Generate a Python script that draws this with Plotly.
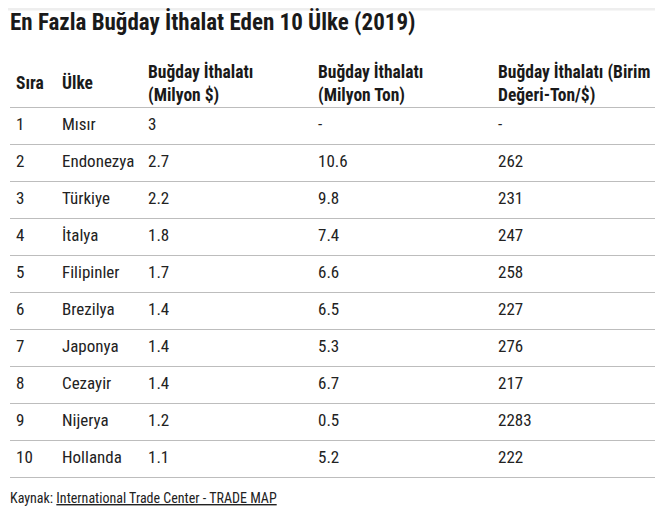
import plotly.graph_objects as go

title = "En Fazla Buğday İthalat Eden 10 Ülke (2019)"
headers = ["Sıra", "Ülke", "Buğday İthalatı<br>(Milyon $)", "Buğday İthalatı<br>(Milyon Ton)",
           "Buğday İthalatı (Birim<br>Değeri-Ton/$)"]
rank = ["1", "2", "3", "4", "5", "6", "7", "8", "9", "10"]
country = ["Mısır", "Endonezya", "Türkiye", "İtalya", "Filipinler", "Brezilya", "Japonya",
           "Cezayir", "Nijerya", "Hollanda"]
import_usd = ["3", "2.7", "2.2", "1.8", "1.7", "1.4", "1.4", "1.4", "1.2", "1.1"]
import_ton = ["-", "10.6", "9.8", "7.4", "6.6", "6.5", "5.3", "6.7", "0.5", "5.2"]
unit_value = ["-", "262", "231", "247", "258", "227", "276", "217", "2283", "222"]

FONT = "Roboto Condensed, Liberation Sans Narrow, Roboto, sans-serif"
# positions below are in figure pixels
col_x = [8, 54, 140, 310, 490]
columns = [rank, country, import_usd, import_ton, unit_value]
rows = list(range(1, len(rank) + 1))
ROW_PX = 37
ROW1_PX = 118

fig = go.Figure()
for x0, vals in zip(col_x, columns):
    fig.add_trace(go.Scatter(
        x=[x0] * len(vals), y=rows, text=vals, mode="text",
        textposition="middle right",
        textfont=dict(family=FONT, size=17, color="#222222"),
        hoverinfo="skip", showlegend=False,
    ))

# header row sits a bit above row 1
fig.add_trace(go.Scatter(
    x=col_x, y=[-0.11] * len(headers), text=headers, mode="text",
    textposition="middle right",
    textfont=dict(family=FONT, size=17.5, color="#1a1a1a", weight="bold"),
    hoverinfo="skip", showlegend=False,
))

shapes = [dict(type="line", xref="x", yref="y", x0=2, x1=647, y0=i + 0.5, y1=i + 0.5,
               line=dict(color="#bdbdbd", width=1.2)) for i in range(0, len(rank) + 1)]
shapes.append(dict(type="rect", xref="x", yref="paper", x0=0, x1=647, y0=1, y1=0.995,
                   line=dict(width=0), fillcolor="#eeeeee"))

fig.update_layout(
    width=670, height=519,
    margin=dict(l=0, r=0, t=0, b=0),
    paper_bgcolor="white", plot_bgcolor="white",
    xaxis=dict(range=[0, 670], visible=False, fixedrange=True),
    yaxis=dict(range=[1 + (519 - ROW1_PX) / ROW_PX, 1 - ROW1_PX / ROW_PX],
               visible=False, fixedrange=True),
    shapes=shapes,
    annotations=[
        dict(text=title, x=0, y=1 - 14 / 519, xref="x", yref="paper", xanchor="left",
             yanchor="middle", showarrow=False,
             font=dict(family=FONT, size=23, color="#1a1a1a", weight="bold")),
        dict(text="Kaynak: <u>International Trade Center - TRADE MAP</u>", x=0,
             y=1 + (490 - ROW1_PX) / ROW_PX, xref="x", yref="y", xanchor="left",
             yanchor="middle", showarrow=False,
             font=dict(family=FONT, size=14, color="#222222")),
    ],
)

fig.write_html("out.html")
